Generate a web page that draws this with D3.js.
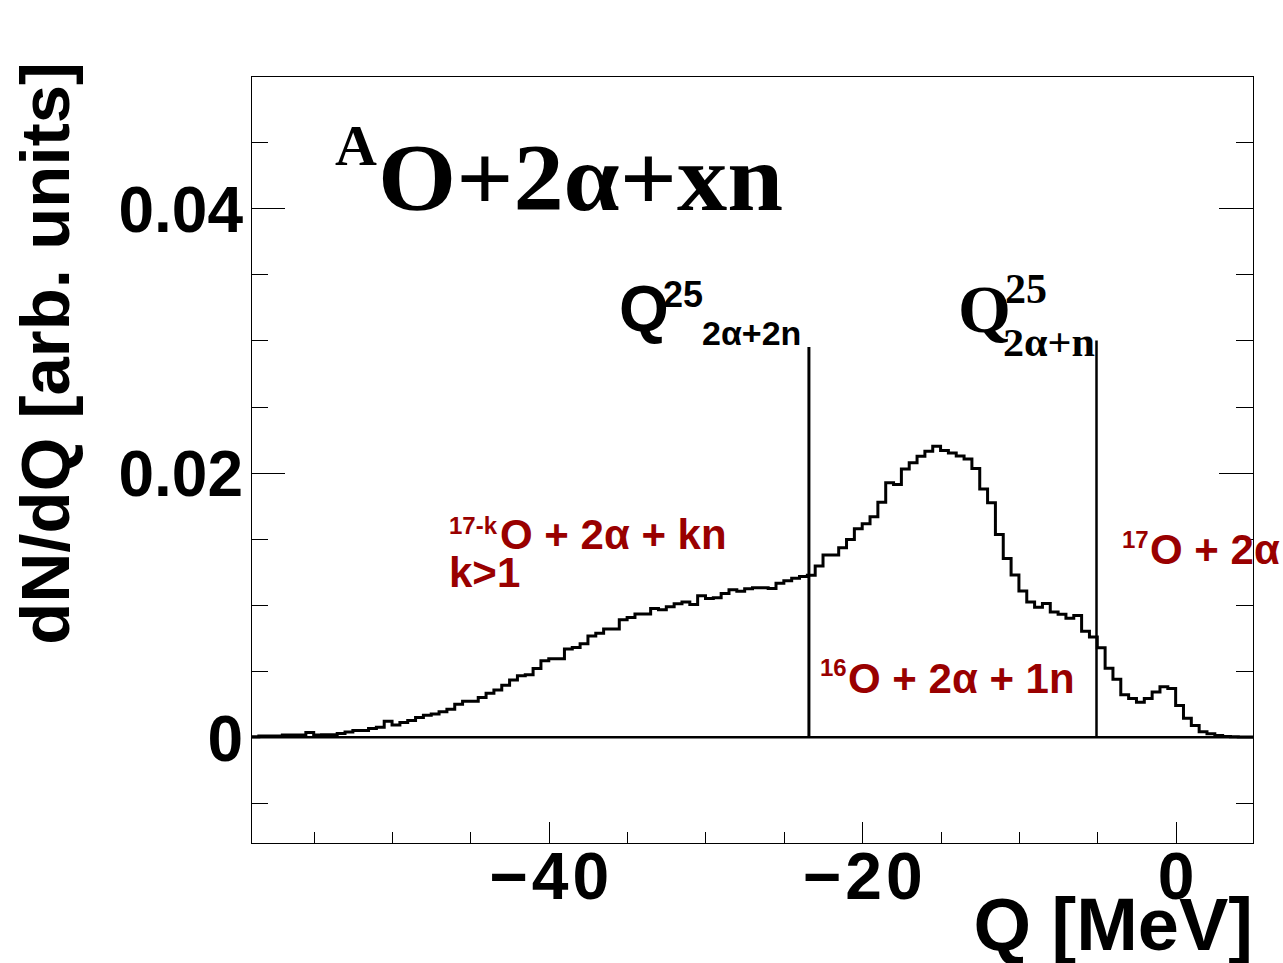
<!DOCTYPE html>
<html>
<head>
<meta charset="utf-8">
<script src="https://cdn.jsdelivr.net/npm/d3@7"></script>
<style>
  body { margin: 0; background: #fff; }
  svg { display: block; }
  .sans { font-family: "Liberation Sans", Arial, Helvetica, sans-serif; font-weight: bold; }
  .serif { font-family: "Liberation Serif", "Times New Roman", serif; font-weight: bold; }
</style>
</head>
<body>
<svg id="chart" width="1283" height="963"></svg>
<script>
// Q spectrum histogram: range and bin width in MeV
const qRange = [-59, 5];
const binWidth = 0.5;

// dN/dQ content of each 0.5 MeV bin, from Q = -59 MeV upward
const dNdQ = [
  0.00004, 0.0001, 0.0001, 0.0001, 0.00017, 0.00017, 0.00017, 0.00035, 0.00017, 0.00019,
  0.00019, 0.00028, 0.0004, 0.00051, 0.00051, 0.00066, 0.00076, 0.00121, 0.00093, 0.00111,
  0.00126, 0.00149, 0.00166, 0.00176, 0.00192, 0.00211, 0.00249, 0.00272, 0.00272, 0.003,
  0.00332, 0.00357, 0.00393, 0.00433, 0.00465, 0.00472, 0.00519, 0.00578, 0.00594, 0.00594,
  0.00667, 0.00678, 0.00706, 0.00765, 0.00786, 0.00818, 0.00818, 0.00889, 0.00906, 0.00931,
  0.00931, 0.00974, 0.00964, 0.00986, 0.0101, 0.01023, 0.01003, 0.0107, 0.01048, 0.01054,
  0.01086, 0.01115, 0.01104, 0.01122, 0.01131, 0.01131, 0.01125, 0.01165, 0.01183, 0.01202,
  0.01216, 0.01224, 0.01294, 0.01377, 0.01377, 0.01433, 0.01495, 0.01576, 0.01614, 0.01667,
  0.01777, 0.01924, 0.01911, 0.02029, 0.02075, 0.02124, 0.02162, 0.02201, 0.02169, 0.0215,
  0.02126, 0.02103, 0.02032, 0.01877, 0.01773, 0.01533, 0.01352, 0.01226, 0.01105, 0.01023,
  0.00983, 0.01012, 0.00946, 0.00929, 0.00899, 0.00921, 0.00802, 0.00758, 0.00677, 0.00521,
  0.00438, 0.00321, 0.00293, 0.00264, 0.00293, 0.00342, 0.00381, 0.00369, 0.00239, 0.00144,
  0.00088, 0.00042, 0.00026, 0.00013, 0.00005, 0.00003, 0.00002, 0.00001
];

// Axis ticks
const yRange = [-0.008, 0.05];
const xMajorTicks = [-40, -20, 0];
const xMinorTicks = [-55, -50, -45, -35, -30, -25, -15, -10, -5];
const yMajorTicks = [0, 0.02, 0.04];
const yMinorTicks = [-0.005, 0.005, 0.01, 0.015, 0.025, 0.03, 0.035, 0.045];

// Separation-energy thresholds (Q value, line top)
const thresholdQ = [-23.4, -5.05];
const thresholdTop = [0.0295, 0.0300];

const svg = d3.select("#chart");
const frame = { left: 251, right: 1254, top: 76, bottom: 843 };

const x = d3.scaleLinear().domain(qRange).range([frame.left, frame.right]);
const y = d3.scaleLinear().domain(yRange).range([frame.bottom, frame.top]);

// frame
svg.append("rect")
  .attr("x", frame.left + 0.5).attr("y", frame.top + 0.5)
  .attr("width", frame.right - frame.left - 1).attr("height", frame.bottom - frame.top)
  .attr("fill", "none").attr("stroke", "#000").attr("stroke-width", 1)
  .attr("shape-rendering", "crispEdges");

function styleAxis(g) {
  g.select(".domain").remove();
  g.selectAll(".tick line").attr("stroke", "#000").attr("stroke-width", 1)
    .attr("shape-rendering", "crispEdges");
}

const yFmt = d => d === 0 ? "0" : d3.format(".2f")(d);

// left axis: major with labels, minor without
svg.append("g").attr("transform", `translate(${frame.left},0)`)
  .call(d3.axisLeft(y).tickValues(yMajorTicks).tickSize(-34).tickPadding(8).tickFormat(yFmt))
  .call(styleAxis)
  .call(g => g.selectAll("text")
    .attr("class", "sans").attr("font-size", 64).attr("fill", "#000").attr("dy", "0.36em"));
svg.append("g").attr("transform", `translate(${frame.left},0)`)
  .call(d3.axisLeft(y).tickValues(yMinorTicks).tickSize(-17).tickFormat(""))
  .call(styleAxis);

// right axis ticks
svg.append("g").attr("transform", `translate(${frame.right - 1},0)`)
  .call(d3.axisRight(y).tickValues(yMajorTicks).tickSize(-34).tickFormat(""))
  .call(styleAxis);
svg.append("g").attr("transform", `translate(${frame.right - 1},0)`)
  .call(d3.axisRight(y).tickValues(yMinorTicks).tickSize(-17).tickFormat(""))
  .call(styleAxis);

// bottom axis (negative labels get the wide minus of the original typesetting)
svg.append("g").attr("transform", `translate(0,${frame.bottom})`)
  .call(d3.axisBottom(x).tickValues(xMajorTicks).tickSize(-21).tickPadding(9).tickFormat(d3.format("d")))
  .call(styleAxis)
  .call(g => g.selectAll("text")
    .attr("class", "sans").attr("font-size", 66).attr("fill", "#000")
    .each(function (d) {
      if (d < 0) d3.select(this).attr("textLength", 120).attr("lengthAdjust", "spacing");
    }));
svg.append("g").attr("transform", `translate(0,${frame.bottom})`)
  .call(d3.axisBottom(x).tickValues(xMinorTicks).tickSize(-11).tickFormat(""))
  .call(styleAxis);

// axis titles
svg.append("text").attr("class", "sans")
  .attr("transform", "translate(69,62) rotate(-90)")
  .attr("text-anchor", "end").attr("font-size", 69).attr("fill", "#000")
  .text("dN/dQ [arb. units]");
svg.append("text").attr("class", "sans")
  .attr("x", 1253).attr("y", 950)
  .attr("text-anchor", "end").attr("font-size", 74).attr("fill", "#000")
  .text("Q [MeV]");

// zero line
svg.append("path")
  .attr("d", d3.line().x(d => x(d[0])).y(d => y(d[1]))([[qRange[0], 0], [qRange[1], 0]]))
  .attr("stroke", "#000").attr("stroke-width", 2.5).attr("fill", "none");

// histogram outline
const steps = [];
dNdQ.forEach((v, i) => {
  const lo = qRange[0] + i * binWidth;
  steps.push([lo, v], [lo + binWidth, v]);
});
svg.append("path")
  .attr("d", d3.line().x(d => x(d[0])).y(d => y(d[1]))(steps))
  .attr("fill", "none").attr("stroke", "#000").attr("stroke-width", 3)
  .attr("stroke-linejoin", "miter");

// threshold lines
thresholdQ.forEach((q, i) => {
  svg.append("line")
    .attr("x1", x(q)).attr("x2", x(q))
    .attr("y1", y(0)).attr("y2", y(thresholdTop[i]))
    .attr("stroke", "#000").attr("stroke-width", i === 0 ? 3 : 2.5);
});

// helper for text pieces
function txt(cls, xp, yp, size, str, fill) {
  return svg.append("text").attr("class", cls)
    .attr("x", xp).attr("y", yp).attr("font-size", size)
    .attr("fill", fill || "#000").text(str);
}

// title
txt("serif", 335, 165, 58, "A");
txt("serif", 378, 210, 95, "O+2α+xn")
  .attr("textLength", 405).attr("lengthAdjust", "spacingAndGlyphs");

// threshold labels
txt("sans", 619, 331, 64, "Q");
txt("sans", 663, 307, 36, "25");
txt("sans", 702, 345, 34, "2α+2n");

txt("serif", 958, 332, 68, "Q");
txt("serif", 1005, 303, 42, "25");
txt("serif", 1003, 356, 41, "2α+n")
  .attr("textLength", 92).attr("lengthAdjust", "spacingAndGlyphs");

// channel labels
const red = "#990000";
txt("sans", 449, 534, 24, "17-k", red);
txt("sans", 500, 549, 42, "O + 2α + kn", red);
txt("sans", 449, 587, 42, "k>1", red);

txt("sans", 820, 676, 24, "16", red);
txt("sans", 848, 693, 42, "O + 2α + 1n", red);

txt("sans", 1122, 548, 24, "17", red);
txt("sans", 1150, 564, 42, "O + 2α", red);
</script>
</body>
</html>
